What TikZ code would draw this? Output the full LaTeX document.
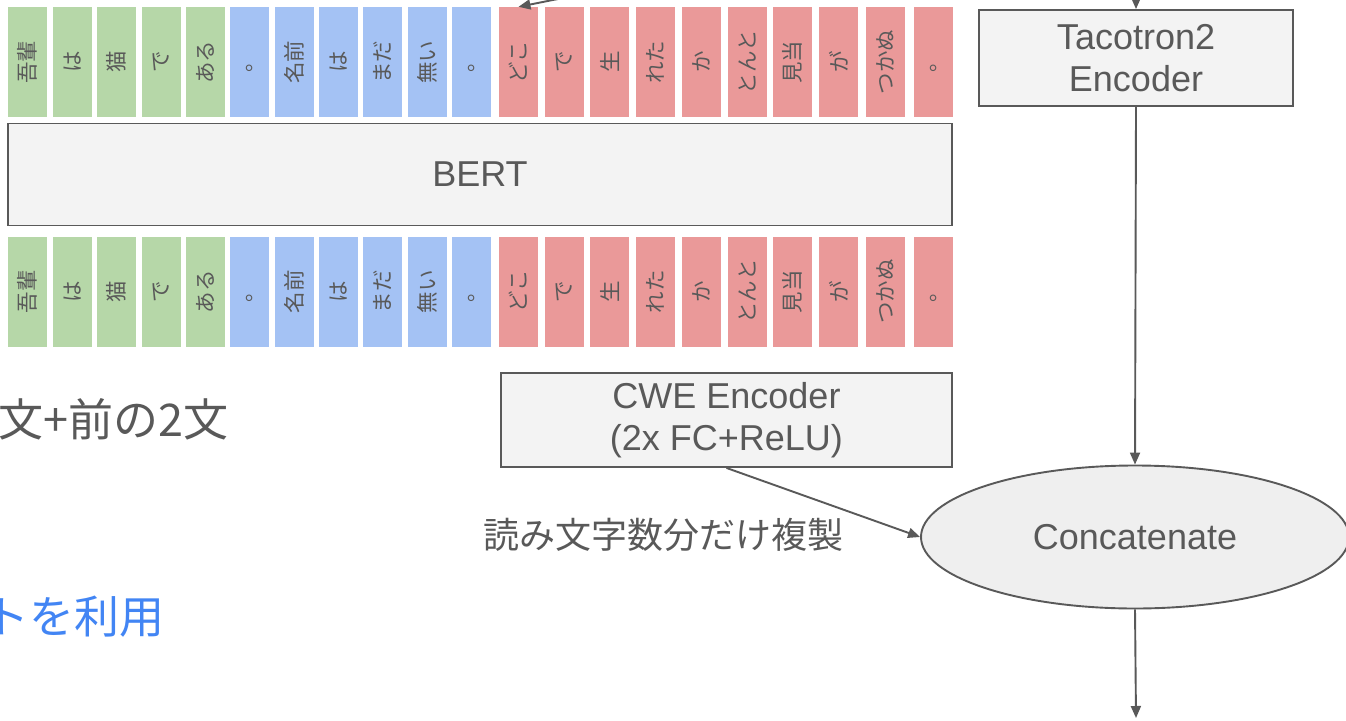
\documentclass[tikz,border=0pt]{standalone}
\usepackage{fontspec}
\setmainfont{Liberation Sans}
\newfontfamily\jp{Noto Sans CJK JP}
\usetikzlibrary{arrows.meta,shapes.geometric}
\definecolor{tg}{HTML}{B6D7A8}
\definecolor{tb}{HTML}{A4C2F4}
\definecolor{tr}{HTML}{EA9999}
\definecolor{ink}{HTML}{595959}
\definecolor{boxfill}{HTML}{F3F3F3}
\definecolor{ellfill}{HTML}{EFEFEF}
\definecolor{linkblue}{HTML}{4285F4}
\tikzset{
  token/.style={rotate=90, minimum width=110pt, minimum height=39pt, inner sep=0pt,
    text=ink, font=\jp\fontsize{21.5}{23}\selectfont},
  blockbox/.style={draw=ink, line width=1.9pt, fill=boxfill, align=center, text=ink,
    font=\fontsize{36}{42}\selectfont, inner sep=0pt},
  ellnode/.style={ellipse, draw=ink, line width=1.9pt, fill=ellfill, text=ink,
    font=\fontsize{36}{42}\selectfont, inner sep=0pt},
  arr/.style={draw=ink, line width=1.9pt, -{Triangle[length=12pt,width=10pt]}},
  plain/.style={text=ink, inner sep=0pt},
}
\begin{document}
\begin{tikzpicture}[x=1pt,y=-1pt]
\useasboundingbox (0,0) rectangle (1346,720);
\clip (0,0) rectangle (1346,720);
\fill[white] (0,0) rectangle (1346,720);
% top token row
\foreach \x/\t/\c [count=\i] in {8/吾輩/tg,53/は/tg,97/猫/tg,142/で/tg,186/ある/tg,
  230/。/tb,275/名前/tb,319/は/tb,363/まだ/tb,408/無い/tb,452/。/tb,
  499/どこ/tr,545/で/tr,590/生/tr,636/れた/tr,682/か/tr,728/とんと/tr,773/見当/tr,819/が/tr,866/つかぬ/tr,914/。/tr}{
  \node[token, fill=\c] (t\i) at (\x+19.5,62) {\t};
  \node[token, fill=\c] (b\i) at (\x+19.5,291.5) {\t};
}
% BERT
\node[blockbox, minimum width=944pt, minimum height=102pt] (bert) at (480,174.5) {BERT};
% Tacotron2 encoder
\node[blockbox, minimum width=314pt, minimum height=96pt] (taco) at (1136,58) {Tacotron2\\Encoder};
% CWE encoder
\node[blockbox, minimum width=451pt, minimum height=94pt] (cwe) at (726.5,420) {CWE Encoder\\(2x FC+ReLU)};
% Concatenate
\node[ellnode, minimum width=428pt, minimum height=143pt] (cat) at (1135,537) {Concatenate};
% labels
\node[plain, font=\jp\fontsize{36}{40}\selectfont] (dup) at (663,535) {読み文字数分だけ複製};
\node[plain, anchor=east, font=\jp\fontsize{45}{50}\selectfont] (ctx) at (229,419) {文+前の2文};
\node[plain, anchor=east, text=linkblue, font=\jp\fontsize{45}{50}\selectfont] (use) at (165,617) {トを利用};
% connectors
\coordinate (topin) at (1136,-2);
\coordinate (tlin) at (563,-2);
\coordinate (out) at (1136,718);
\draw[arr] (tlin) -- (t12.east);
\draw[arr] (topin) -- (taco.north);
\draw[arr] (taco.south) -- (cat.north);
\draw[arr] (cwe.south) -- (cat.west);
\draw[arr] (cat.south) -- (out);
\end{tikzpicture}
\end{document}
